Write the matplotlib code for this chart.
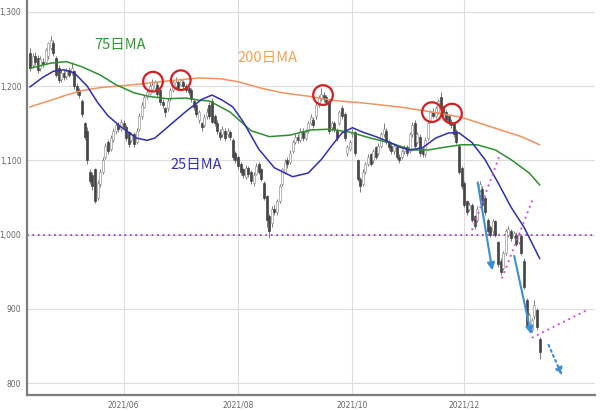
import matplotlib
matplotlib.use("Agg")
import matplotlib.pyplot as plt
import pandas as pd

# daily candles (trading days from 2021-04-12)
open_ = [1245, 1228, 1240, 1238, 1225, 1232, 1232, 1240, 1252, 1258,
         1238, 1225, 1210, 1218, 1214, 1222, 1218, 1220, 1200, 1195,
         1180, 1150, 1140, 1085, 1080, 1088, 1050, 1068, 1085, 1105,
         1125, 1115, 1128, 1140, 1148, 1142, 1150, 1145, 1138, 1128,
         1135, 1125, 1142, 1160, 1172, 1185, 1190, 1196, 1198, 1202,
         1195, 1178, 1170, 1170, 1182, 1195, 1200, 1205, 1202, 1205,
         1200, 1198, 1195, 1180, 1175, 1155, 1150, 1148, 1160, 1175,
         1180, 1160, 1150, 1138, 1135, 1140, 1135, 1138, 1128, 1110,
         1105, 1095, 1088, 1078, 1090, 1085, 1070, 1082, 1095, 1088,
         1070, 1052, 1025, 1015, 1035, 1030, 1045, 1068, 1085, 1100,
         1098, 1112, 1125, 1132, 1128, 1140, 1130, 1140, 1150, 1155,
         1160, 1175, 1182, 1188, 1185, 1180, 1145, 1150, 1140, 1150,
         1170, 1162, 1110, 1115, 1135, 1138, 1100, 1075, 1068, 1085,
         1095, 1108, 1100, 1118, 1110, 1120, 1135, 1140, 1125, 1120,
         1112, 1118, 1105, 1105, 1112, 1118, 1112, 1135, 1150, 1125,
         1132, 1115, 1108, 1130, 1152, 1165, 1160, 1165, 1185, 1172,
         1165, 1160, 1152, 1150, 1140, 1120, 1090, 1070, 1045, 1035,
         1040, 1025, 1020, 1060, 1062, 1050, 1020, 1010, 1005, 1018,
         990, 965, 955, 975, 1000, 1005, 998, 1000, 990, 998,
         965, 912, 875, 872, 890, 898, 860]
high = [1252, 1244, 1246, 1242, 1240, 1238, 1252, 1260, 1268, 1262,
        1240, 1228, 1222, 1222, 1224, 1226, 1232, 1222, 1204, 1198,
        1182, 1152, 1145, 1088, 1084, 1090, 1074, 1088, 1104, 1124,
        1128, 1134, 1144, 1152, 1152, 1156, 1154, 1148, 1140, 1138,
        1138, 1144, 1164, 1178, 1188, 1196, 1204, 1210, 1208, 1205,
        1197, 1182, 1172, 1184, 1198, 1208, 1212, 1208, 1210, 1208,
        1203, 1200, 1197, 1184, 1177, 1168, 1152, 1162, 1170, 1178,
        1184, 1162, 1154, 1142, 1146, 1143, 1144, 1141, 1130, 1112,
        1107, 1098, 1090, 1094, 1093, 1087, 1084, 1096, 1098, 1090,
        1072, 1054, 1028, 1038, 1040, 1048, 1068, 1090, 1102, 1104,
        1114, 1128, 1136, 1136, 1144, 1143, 1142, 1153, 1162, 1158,
        1178, 1188, 1198, 1192, 1188, 1182, 1153, 1153, 1143, 1168,
        1175, 1165, 1121, 1128, 1142, 1140, 1102, 1078, 1088, 1098,
        1108, 1110, 1115, 1120, 1123, 1138, 1150, 1143, 1128, 1123,
        1123, 1120, 1108, 1115, 1121, 1121, 1138, 1152, 1155, 1138,
        1135, 1118, 1131, 1153, 1168, 1170, 1173, 1183, 1192, 1175,
        1168, 1162, 1156, 1152, 1142, 1122, 1092, 1072, 1047, 1044,
        1042, 1027, 1038, 1072, 1065, 1052, 1022, 1013, 1021, 1020,
        992, 968, 978, 1008, 1012, 1008, 1005, 1003, 1003, 1000,
        968, 915, 895, 888, 912, 901, 862]
low = [1220, 1225, 1228, 1218, 1220, 1226, 1230, 1236, 1248, 1240,
       1212, 1204, 1206, 1208, 1210, 1212, 1215, 1196, 1188, 1184,
       1158, 1128, 1095, 1068, 1060, 1042, 1046, 1064, 1082, 1102,
       1108, 1112, 1125, 1136, 1138, 1140, 1142, 1126, 1118, 1125,
       1118, 1122, 1140, 1156, 1170, 1182, 1188, 1194, 1195, 1186,
       1175, 1170, 1158, 1166, 1180, 1192, 1198, 1195, 1200, 1196,
       1192, 1188, 1178, 1168, 1158, 1150, 1140, 1145, 1156, 1156,
       1150, 1146, 1136, 1128, 1132, 1126, 1132, 1128, 1100, 1096,
       1088, 1080, 1076, 1075, 1078, 1068, 1066, 1080, 1082, 1072,
       1046, 1010, 995, 1010, 1026, 1027, 1042, 1065, 1082, 1090,
       1095, 1110, 1122, 1124, 1125, 1126, 1127, 1137, 1147, 1144,
       1156, 1172, 1180, 1178, 1174, 1136, 1140, 1138, 1126, 1148,
       1156, 1126, 1106, 1112, 1132, 1106, 1072, 1058, 1065, 1082,
       1092, 1092, 1097, 1102, 1107, 1117, 1132, 1122, 1114, 1108,
       1109, 1102, 1096, 1102, 1109, 1106, 1110, 1132, 1116, 1122,
       1106, 1104, 1105, 1127, 1150, 1157, 1157, 1162, 1167, 1158,
       1152, 1147, 1144, 1132, 1122, 1082, 1062, 1037, 1027, 1032,
       1017, 1008, 1017, 1057, 1037, 1027, 1002, 997, 1002, 997,
       957, 945, 952, 972, 997, 992, 995, 985, 987, 972,
       927, 875, 872, 869, 887, 872, 832]
close = [1225, 1240, 1232, 1222, 1236, 1230, 1248, 1258, 1262, 1245,
         1215, 1208, 1218, 1212, 1220, 1215, 1224, 1200, 1192, 1188,
         1162, 1132, 1100, 1072, 1065, 1045, 1070, 1085, 1100, 1120,
         1112, 1130, 1140, 1148, 1142, 1152, 1145, 1130, 1122, 1135,
         1122, 1140, 1160, 1175, 1185, 1192, 1200, 1202, 1205, 1190,
         1178, 1175, 1165, 1180, 1195, 1205, 1205, 1198, 1208, 1200,
         1195, 1192, 1182, 1172, 1162, 1165, 1145, 1158, 1165, 1160,
         1152, 1150, 1140, 1132, 1142, 1130, 1140, 1132, 1105, 1100,
         1092, 1085, 1080, 1090, 1082, 1072, 1080, 1092, 1085, 1075,
         1050, 1020, 1005, 1035, 1030, 1045, 1065, 1088, 1098, 1095,
         1110, 1125, 1132, 1128, 1140, 1130, 1138, 1150, 1158, 1148,
         1175, 1185, 1190, 1182, 1178, 1140, 1150, 1142, 1130, 1165,
         1160, 1130, 1118, 1125, 1138, 1110, 1075, 1065, 1085, 1095,
         1105, 1095, 1112, 1105, 1120, 1135, 1142, 1125, 1118, 1112,
         1120, 1105, 1100, 1112, 1118, 1110, 1135, 1148, 1120, 1135,
         1110, 1108, 1128, 1150, 1165, 1160, 1170, 1180, 1170, 1162,
         1155, 1150, 1148, 1135, 1125, 1085, 1065, 1040, 1030, 1040,
         1020, 1012, 1035, 1068, 1040, 1030, 1005, 1000, 1018, 1000,
         960, 950, 975, 1005, 1008, 995, 1002, 988, 1000, 975,
         930, 878, 892, 885, 905, 875, 842]

# moving averages read at sample candles
ma25_idx = [0, 5, 9, 13, 17, 22, 26, 30, 35, 41, 45, 48, 53, 60, 66, 70, 74,
            78, 82, 88, 94, 101, 107, 112, 117, 120, 124, 128, 133, 138, 142,
            146, 151, 156, 161, 165, 170, 175, 180, 185, 190, 196]
ma25_val = [1199, 1212, 1220, 1222, 1218, 1200, 1178, 1160, 1145, 1130, 1127,
            1130, 1145, 1166, 1182, 1188, 1181, 1172, 1152, 1115, 1090, 1078,
            1083, 1101, 1124, 1137, 1144, 1138, 1132, 1125, 1118, 1114, 1117,
            1130, 1137, 1137, 1124, 1101, 1070, 1037, 1010, 968]
ma75_idx = [0, 8, 14, 20, 27, 33, 40, 46, 53, 60, 65, 69, 77, 85, 92, 100,
            108, 115, 123, 131, 138, 147, 153, 160, 166, 172, 179, 185, 192, 196]
ma75_val = [1224, 1231, 1233, 1226, 1215, 1202, 1191, 1186, 1183, 1184, 1181,
            1180, 1165, 1140, 1132, 1134, 1141, 1142, 1138, 1130, 1124, 1114,
            1114, 1118, 1121, 1121, 1114, 1101, 1083, 1067]
ma200_idx = [0, 8, 14, 20, 27, 40, 53, 65, 73, 80, 88, 97, 108, 116, 129,
             142, 155, 166, 181, 189, 196]
ma200_val = [1172, 1181, 1188, 1194, 1198, 1202, 1207, 1211, 1210, 1206, 1198,
             1191, 1186, 1181, 1177, 1172, 1165, 1158, 1141, 1132, 1121]

# annotations
circle_idx = [47.3, 58, 112.7, 154.6, 162.3]
circle_val = [1206, 1208, 1188, 1165, 1163]
trend_lines = [((170, 1006), (181, 1110)),
               ((181.5, 941), (193.5, 1049)),
               ((193, 861), (214, 898))]
down_arrows = [((172, 1074), (178, 948)),
               ((186, 975), (193, 862))]
future_arrow = ((199, 855), (205, 807))

dates = pd.bdate_range("2021-04-12", periods=len(close))
tick_pos = [i for i in range(1, len(dates)) if dates[i].month != dates[i - 1].month
            and dates[i].month % 2 == 0]
tick_lab = [dates[i].strftime("%Y/%m") for i in tick_pos]

fig = plt.figure(figsize=(6, 4.11), dpi=100)
ax = fig.add_axes([27 / 600, 16 / 411, 568 / 600, 395 / 411])

x = list(range(len(close)))
up = [c >= o for o, c in zip(open_, close)]
ax.vlines(x, low, high, color="#7a7a7a", lw=0.7, zorder=2)
bottoms = [min(o, c) for o, c in zip(open_, close)]
heights = [max(abs(c - o), 1.5) for o, c in zip(open_, close)]
ax.bar(x, heights, bottom=bottoms, width=0.75,
       color=["white" if u else "#454545" for u in up],
       edgecolor=["#9a9a9a" if u else "#454545" for u in up],
       linewidth=0.5, zorder=3)

ax.plot(ma200_idx, ma200_val, color="#f4925e", lw=1.1, zorder=4)
ax.plot(ma75_idx, ma75_val, color="#2e8f2e", lw=1.1, zorder=4)
ax.plot(ma25_idx, ma25_val, color="#2f2fb5", lw=1.1, zorder=4)

ax.axhline(1000, color="#9b3cf0", lw=1.3, ls=(0, (1, 2)), zorder=1)
for (x0, y0), (x1, y1) in trend_lines:
    ax.plot([x0, x1], [y0, y1], color="#d64fd6", lw=1.4, ls=(0, (1, 2)), zorder=5)
for (x0, y0), (x1, y1) in down_arrows:
    ax.annotate("", xy=(x1, y1), xytext=(x0, y0),
                arrowprops=dict(arrowstyle="-|>", color="#3d8ed8", lw=1.5,
                                mutation_scale=11), zorder=6)
(fx0, fy0), (fx1, fy1) = future_arrow
ax.annotate("", xy=(fx1, fy1), xytext=(fx0, fy0),
            arrowprops=dict(arrowstyle="-|>", color="#3d8ed8", lw=1.5, ls=":",
                            mutation_scale=11), zorder=6)

ax.scatter(circle_idx, circle_val, s=200, facecolors="none",
           edgecolors="#d42020", linewidths=1.6, zorder=7)

jp = ["Noto Sans CJK JP", "DejaVu Sans"]
ax.text(34.6, 1255, "75日MA", color="#2e9a2e", fontsize=10.5, family=jp,
        ha="center", va="center")
ax.text(91.5, 1238, "200日MA", color="#f2a455", fontsize=10.5, family=jp,
        ha="center", va="center")
ax.text(63.8, 1094, "25日MA", color="#3030c0", fontsize=10.5, family=jp,
        ha="center", va="center")

ax.set_xlim(-1.15, 217.3)
ax.set_ylim(784, 1316)
ax.set_yticks([800, 900, 1000, 1100, 1200, 1300])
ax.set_yticklabels([f"{v:,}" for v in [800, 900, 1000, 1100, 1200, 1300]])
ax.set_xticks(tick_pos)
ax.set_xticklabels(tick_lab)
ax.tick_params(length=0, labelsize=5.5, labelcolor="#666666", pad=4)
ax.grid(True, color="#dddddd", lw=0.8, zorder=0)
ax.set_axisbelow(True)
for s in ["top", "right"]:
    ax.spines[s].set_visible(False)
for s in ["left", "bottom"]:
    ax.spines[s].set_color("#7d7d7d")
    ax.spines[s].set_linewidth(1.6)

fig.savefig("out.png", dpi=100)
